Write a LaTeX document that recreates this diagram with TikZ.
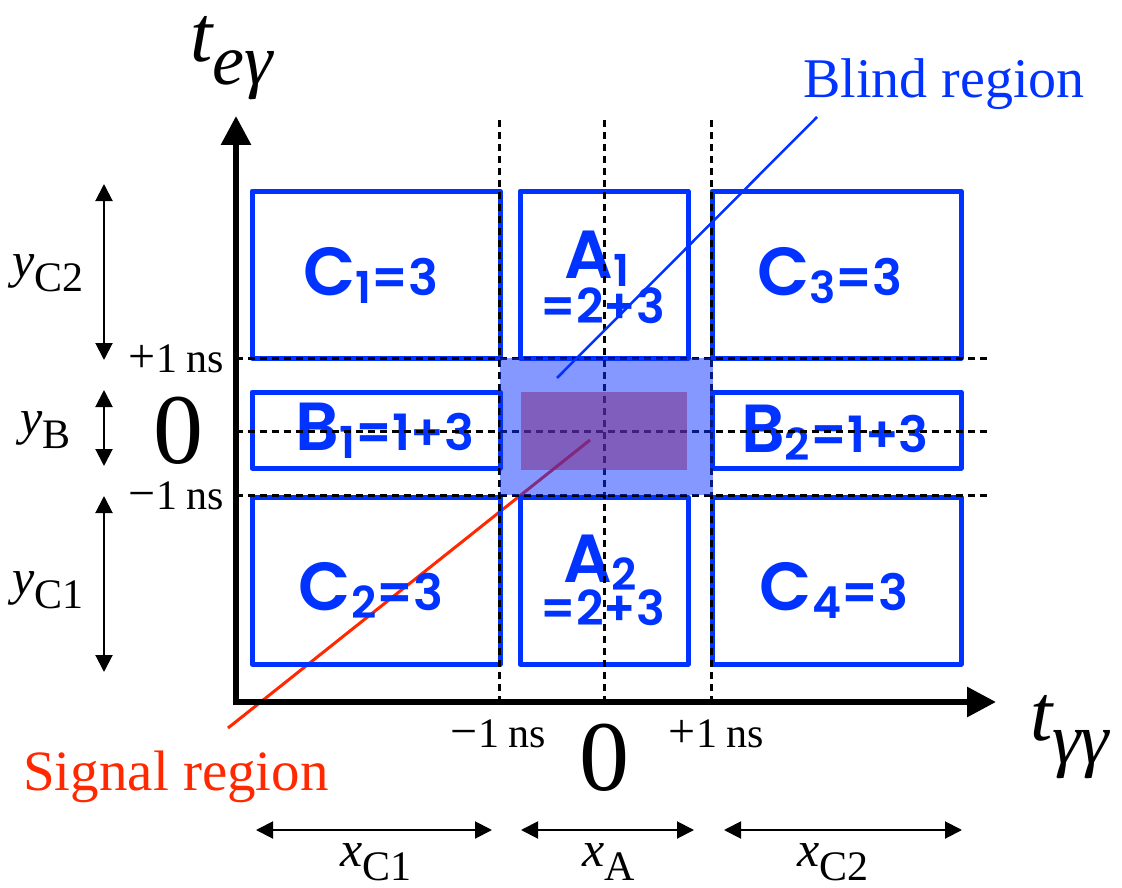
\documentclass[tikz,border=0pt]{standalone}
\usepackage{fontspec}
\setmainfont{Liberation Serif}
\newfontfamily\boxfont{Poppins}[BoldFont={Poppins SemiBold}]
\usetikzlibrary{arrows.meta}
\definecolor{bblue}{RGB}{0,51,255}
\definecolor{sred}{RGB}{255,40,0}
\definecolor{blindc}{RGB}{10,50,255}
\definecolor{sigc}{RGB}{125,37,125}
\newcommand\boxlab[3]{{\boxfont\bfseries\fontsize{68}{68}\selectfont #1\raisebox{-8pt}{\fontsize{44}{44}\selectfont #2}\fontsize{50}{50}\selectfont #3}}
\newcommand\boxlow[1]{{\boxfont\bfseries\fontsize{48}{48}\selectfont #1}}
\newcommand\varlab[2]{{\fontsize{50}{50}\selectfont\itshape #1}\raisebox{-14pt}{\fontsize{42}{42}\selectfont #2}}
\newcommand\nslab[2]{{\fontsize{42}{42}\selectfont{\fontsize{48}{48}\selectfont #1}\hspace{1pt}1\hspace{9pt}ns}}
\begin{document}
\begin{tikzpicture}[x=1pt,y=-1pt,
  bx/.style={draw=bblue,line width=5pt,line join=round,inner sep=0pt,outer sep=0pt},
  lab/.style={inner sep=0pt,anchor=base,text=bblue},
  gridline/.style={black,line width=3pt,dash pattern=on 7pt off 5pt},
  axisline/.style={line width=6pt,{Triangle[length=29pt,width=29pt]}-{Triangle[length=29pt,width=29pt]}},
  spanline/.style={line width=2pt,{Triangle[length=17pt,width=17pt]}-{Triangle[length=17pt,width=17pt]}},
  tx/.style={inner sep=0pt},
]
\useasboundingbox (0,0) rectangle (1122,888);
% signal leader (under fills)
\coordinate (sigEnd) at (228,728);
\coordinate (sigIn) at (590,440);
\draw[sred,line width=3pt] (sigEnd) -- (sigIn);
% boxes
\node[bx,minimum width=248pt,minimum height=167pt] (C1) at (376,274.5) {};
\node[bx,minimum width=168pt,minimum height=167pt] (A1) at (604,274.5) {};
\node[bx,minimum width=249pt,minimum height=167pt] (C3) at (836.5,274.5) {};
\node[bx,minimum width=248pt,minimum height=76pt] (B1) at (376,430) {};
\node[bx,minimum width=249pt,minimum height=76pt] (B2) at (836.5,430) {};
\node[bx,minimum width=248pt,minimum height=167pt] (C2) at (376,580.5) {};
\node[bx,minimum width=168pt,minimum height=167pt] (A2) at (604,580.5) {};
\node[bx,minimum width=249pt,minimum height=167pt] (C4) at (836.5,580.5) {};
% box labels
\node[lab] (lC1) at (371,295) {\boxlab{C}{1}{=3}};
\node[lab] (lC3) at (830,295) {\boxlab{C}{3}{=3}};
\node[lab] (lC2) at (371,610) {\boxlab{C}{2}{=3}};
\node[lab] (lC4) at (834,610) {\boxlab{C}{4}{=3}};
\node[lab] (lB1) at (385,450) {\boxlab{B}{1}{=1+3}};
\node[lab] (lB2) at (835,452) {\boxlab{B}{2}{=1+3}};
\node[lab] (lA1) at (597,278) {\boxlab{A}{1}{}};
\node[lab] (lA1b) at (603,323) {\boxlow{=2+3}};
\node[lab] (lA2) at (600,582) {\boxlab{A}{2}{}};
\node[lab] (lA2b) at (603,625) {\boxlow{=2+3}};
% dashed grid
\coordinate (v1t) at (499,120); \coordinate (v1b) at (499,700);
\coordinate (v2t) at (604,120); \coordinate (v2b) at (604,700);
\coordinate (v3t) at (711,120); \coordinate (v3b) at (711,700);
\coordinate (h1l) at (236,358); \coordinate (h1r) at (988,358);
\coordinate (h2l) at (236,431); \coordinate (h2r) at (988,431);
\coordinate (h3l) at (236,495); \coordinate (h3r) at (988,495);
\draw[gridline] (v1t) -- (v1b);
\draw[gridline] (v2t) -- (v2b);
\draw[gridline] (v3t) -- (v3b);
\draw[gridline] (h1l) -- (h1r);
\draw[gridline] (h2l) -- (h2r);
\draw[gridline] (h3l) -- (h3r);
% regions
\node[fill=blindc,fill opacity=0.5,inner sep=0pt,minimum width=213pt,minimum height=137pt] (blind) at (606.5,426.5) {};
\node[fill=sigc,fill opacity=0.5,inner sep=0pt,minimum width=166pt,minimum height=78pt] (signal) at (604,431) {};
% blind leader
\coordinate (blIn) at (557,378);
\coordinate (blEnd) at (817,117);
\draw[bblue,line width=2.5pt] (blIn) -- (blEnd);
% axes
\coordinate (ytip) at (236,116);
\coordinate (xtip) at (996,702);
\draw[axisline] (ytip) |- (xtip);
% axis titles
\node[tx,anchor=base west] (tey) at (190,62) {\fontsize{80}{80}\selectfont\itshape t\raisebox{-23pt}{\fontsize{72}{72}\selectfont eγ}};
\node[tx,anchor=base west] (tgg) at (1030,740) {\fontsize{80}{80}\selectfont\itshape t\raisebox{-23pt}{\fontsize{72}{72}\selectfont γγ}};
% tick labels
\node[tx,anchor=base east] (yp1) at (224,372) {\nslab{+}{1}};
\node[tx,anchor=base east] (ym1) at (224,509) {\nslab{−}{1}};
\node[tx,anchor=base west] (xm1) at (450,747) {\nslab{−}{1}};
\node[tx,anchor=base west] (xp1) at (668,747) {\nslab{+}{1}};
\node[tx] (zy) at (178,431) {\fontsize{100}{100}\selectfont 0};
\node[tx] (zx) at (604,758) {\fontsize{100}{100}\selectfont 0};
% span arrows
\coordinate (sC2a) at (104,184); \coordinate (sC2b) at (104,360);
\coordinate (sBa) at (104,390); \coordinate (sBb) at (104,466);
\coordinate (sC1a) at (104,496); \coordinate (sC1b) at (104,672);
\draw[spanline] (sC2a) -- (sC2b);
\draw[spanline] (sBa) -- (sBb);
\draw[spanline] (sC1a) -- (sC1b);
\coordinate (xC1a) at (256,830); \coordinate (xC1b) at (492,830);
\coordinate (xAa) at (521,830); \coordinate (xAb) at (694,830);
\coordinate (xC2a) at (724,830); \coordinate (xC2b) at (962,830);
\draw[spanline] (xC1a) -- (xC1b);
\draw[spanline] (xAa) -- (xAb);
\draw[spanline] (xC2a) -- (xC2b);
% span labels
\node[tx,anchor=base west] (lyC2) at (12,277) {\varlab{y}{C2}};
\node[tx,anchor=base west] (lyB) at (20,434) {\varlab{y}{B}};
\node[tx,anchor=base west] (lyC1) at (12,594) {\varlab{y}{C1}};
\node[tx,anchor=base west] (lxC1) at (340,866) {\varlab{x}{C1}};
\node[tx,anchor=base west] (lxA) at (582,866) {\varlab{x}{A}};
\node[tx,anchor=base west] (lxC2) at (797,866) {\varlab{x}{C2}};
% region names
\node[tx,anchor=base west,text=sred] (sigLbl) at (23,790) {\fontsize{57}{57}\selectfont Signal region};
\node[tx,anchor=base west,text=bblue] (blLbl) at (803,98) {\fontsize{56}{56}\selectfont Blind region};
\end{tikzpicture}
\end{document}
